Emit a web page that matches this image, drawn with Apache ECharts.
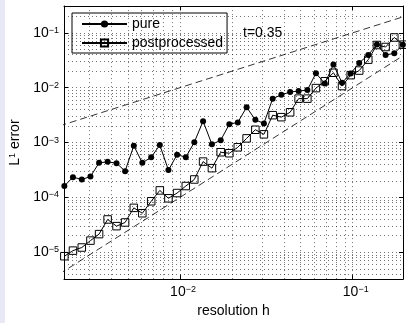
<!DOCTYPE html>
<html>
<head>
<meta charset="utf-8">
<script src="https://cdn.jsdelivr.net/npm/echarts@6/dist/echarts.min.js"></script>
<style>
  html, body { margin: 0; padding: 0; background: #fff; }
  #chart { width: 406px; height: 323px; }
  #strip { position: absolute; left: 0; top: 0; width: 5px; height: 323px; background: #e8e8f6; }
</style>
</head>
<body>
<div id="chart"></div>
<div id="strip"></div>
<script>
// resolution h (log spaced)
var hValues = [0.00214, 0.00240, 0.00270, 0.00303, 0.00340, 0.00381, 0.00429, 0.00481, 0.00540, 0.00605,
  0.00681, 0.00764, 0.00857, 0.00962, 0.0108, 0.0121, 0.0136, 0.0153, 0.0172, 0.0193,
  0.0216, 0.0243, 0.0273, 0.0306, 0.0344, 0.0386, 0.0434, 0.0486, 0.0546, 0.0612,
  0.0689, 0.0773, 0.0867, 0.0973, 0.109, 0.123, 0.138, 0.155, 0.174, 0.195];

var pureErr = [1.61e-4, 2.34e-4, 2.12e-4, 2.40e-4, 4.26e-4, 4.44e-4, 4.21e-4, 3.01e-4, 8.75e-4, 4.26e-4,
  5.40e-4, 9.0e-4, 3.14e-4, 6.01e-4, 5.40e-4, 1.01e-3, 2.45e-3, 9.27e-4, 1.10e-3, 2.16e-3,
  2.32e-3, 4.40e-3, 2.59e-3, 2.23e-3, 6.31e-3, 7.40e-3, 8.32e-3, 8.67e-3, 9.03e-3, 1.83e-2,
  1.19e-2, 2.64e-2, 1.23e-2, 1.81e-2, 2.83e-2, 3.95e-2, 6.14e-2, 3.95e-2, 4.22e-2, 6.07e-2];

var postErr = [8.47e-6, 1.07e-5, 1.22e-5, 1.63e-5, 2.14e-5, 3.96e-5, 2.99e-5, 3.49e-5, 6.44e-5, 5.14e-5,
  8.49e-5, 1.34e-4, 9.62e-5, 1.20e-4, 1.61e-4, 2.12e-4, 4.49e-4, 3.41e-4, 6.65e-4, 6.38e-4,
  8.19e-4, 1.19e-3, 1.71e-3, 1.41e-3, 3.15e-3, 2.90e-3, 3.56e-3, 6.31e-3, 6.31e-3, 9.82e-3,
  1.31e-2, 1.87e-2, 1.07e-2, 1.69e-2, 2.05e-2, 3.24e-2, 5.99e-2, 5.51e-2, 8.22e-2, 6.07e-2];

// reference slopes: y = h and y = h^2
var refLinear = [[0.002, 0.002], [0.2, 0.2]];
var refQuad = [[0.002, 4e-6], [0.2, 0.04]];

// grid lines (matlab style, every 1..9 x decade)
var xGrid = [0.003, 0.004, 0.005, 0.006, 0.007, 0.008, 0.009, 0.01,
  0.02, 0.03, 0.04, 0.05, 0.06, 0.07, 0.08, 0.09, 0.1];
var yGrid = [4e-6, 5e-6, 6e-6, 7e-6, 8e-6, 9e-6, 1e-5,
  2e-5, 3e-5, 4e-5, 5e-5, 6e-5, 7e-5, 8e-5, 9e-5, 1e-4,
  2e-4, 3e-4, 4e-4, 5e-4, 6e-4, 7e-4, 8e-4, 9e-4, 1e-3,
  2e-3, 3e-3, 4e-3, 5e-3, 6e-3, 7e-3, 8e-3, 9e-3, 1e-2,
  2e-2, 3e-2, 4e-2, 5e-2, 6e-2, 7e-2, 8e-2, 9e-2, 1e-1, 0.2, 0.3];

var X_MIN = 0.00213, X_MAX = 0.1954;
var Y_MIN = 3.24e-6, Y_MAX = 0.308;

var FONT = '"Liberation Sans", Arial, sans-serif';

function decadeLabel(v) {
  var e = Math.log10(v), r = Math.round(e);
  if (Math.abs(e - r) > 1e-6) return '';
  return '{b|10}{s|' + (r < 0 ? '\u2212' + (-r) : r) + '}';
}

var labelRich = {
  b: { fontSize: 14, fontFamily: FONT, color: '#000', lineHeight: 14 },
  s: { fontSize: 9, fontFamily: FONT, color: '#000', lineHeight: 6, verticalAlign: 'top' }
};

var tickStyle = { show: true, inside: true, length: 4, lineStyle: { color: '#000', width: 1 } };
var lineAxis = { lineStyle: { color: '#000', width: 1 } };

function pairs(xs, ys) {
  return xs.map(function (x, i) { return [x, ys[i]]; });
}

var chart = echarts.init(document.getElementById('chart'));

chart.setOption({
  animation: false,
  backgroundColor: '#fff',
  grid: { left: 64, right: 3, top: 6, bottom: 42 },
  title: {
    text: 't=0.35', left: 243, top: 26, padding: 0,
    textStyle: { fontSize: 14, fontWeight: 'normal', fontFamily: FONT, color: '#000' }
  },
  legend: {
    data: ['pure', 'postprocessed'],
    orient: 'vertical', left: 72, top: 13,
    padding: [4, 4, 3, 9], itemGap: 5, itemWidth: 45, itemHeight: 9,
    backgroundColor: '#fff', borderColor: '#000', borderWidth: 1,
    selectedMode: false,
    textStyle: { fontSize: 14, fontFamily: FONT, color: '#000', lineHeight: 14 }
  },
  xAxis: [{
    type: 'log', logBase: 10, min: X_MIN, max: X_MAX,
    axisLine: lineAxis, axisTick: tickStyle,
    axisLabel: { formatter: decadeLabel, rich: labelRich, margin: 6, padding: [0, 0, 0, 6] },
    splitLine: { show: false },
    name: 'resolution h', nameLocation: 'middle', nameGap: 24,
    nameTextStyle: { fontSize: 14, fontFamily: FONT, color: '#000' }
  }, {
    type: 'log', logBase: 10, min: X_MIN, max: X_MAX, position: 'top',
    axisLine: lineAxis, axisTick: tickStyle, axisLabel: { show: false }, splitLine: { show: false }
  }],
  yAxis: [{
    type: 'log', logBase: 10, min: Y_MIN, max: Y_MAX,
    axisLine: lineAxis, axisTick: tickStyle,
    axisLabel: { formatter: decadeLabel, rich: labelRich, margin: 5 },
    splitLine: { show: false },
    name: '{b|L}{s|1}{b| error}', nameLocation: 'middle', nameGap: 36,
    nameTextStyle: {
      rich: {
        b: { fontSize: 14, fontFamily: FONT, color: '#000', lineHeight: 14 },
        s: { fontSize: 9, fontFamily: FONT, color: '#000', lineHeight: 6, verticalAlign: 'top' }
      }
    }
  }, {
    type: 'log', logBase: 10, min: Y_MIN, max: Y_MAX, position: 'right',
    axisLine: lineAxis, axisTick: tickStyle, axisLabel: { show: false }, splitLine: { show: false }
  }],
  series: [{
    name: 'y=h', type: 'line', data: refLinear, symbol: 'none', silent: true, z: 2,
    lineStyle: { color: '#000', width: 0.8, type: [7, 4] },
    markLine: {
      silent: true, symbol: 'none', label: { show: false }, precision: 12,
      lineStyle: { color: '#000', width: 1, type: [1, 3], opacity: 0.55 },
      data: xGrid.map(function (v) { return { xAxis: v }; })
        .concat(yGrid.map(function (v) { return { yAxis: v }; }))
    }
  }, {
    name: 'y=h^2', type: 'line', data: refQuad, symbol: 'none', silent: true, z: 2,
    lineStyle: { color: '#000', width: 0.8, type: [7, 4] }
  }, {
    name: 'postprocessed', type: 'line', data: pairs(hValues, postErr), z: 3,
    symbol: 'rect', symbolSize: 7.5,
    itemStyle: { color: 'rgba(0,0,0,0)', borderColor: '#000', borderWidth: 1 },
    lineStyle: { color: '#000', width: 1 }
  }, {
    name: 'pure', type: 'line', data: pairs(hValues, pureErr), z: 4,
    symbol: 'circle', symbolSize: 6,
    itemStyle: { color: '#000' },
    lineStyle: { color: '#000', width: 1 }
  }]
});
</script>
</body>
</html>
